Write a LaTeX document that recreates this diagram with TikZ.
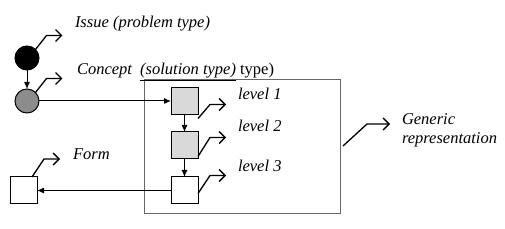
\documentclass[tikz,border=0pt]{standalone}
\usepackage{fontspec}
\setmainfont{Liberation Serif}
\usetikzlibrary{arrows.meta}
\begin{document}
\begin{tikzpicture}[x=1pt,y=-1pt,
  every node/.style={inner sep=0pt, outer sep=0pt},
  lab/.style={font=\fontsize{16.5}{19}\selectfont\itshape, anchor=west},
  hook/.style={line width=1.3pt, line join=miter, -{Straight Barb[length=6pt,width=12pt,line width=1.3pt]}},
  conn/.style={line width=1pt, -{Latex[length=7pt,width=6pt]}},
  sq/.style={draw, line width=1pt, minimum size=27pt},
  circ/.style={draw, circle, line width=1pt, minimum size=24pt}]
\useasboundingbox (0,0) rectangle (505,229);
% frame
\node[draw=black!60, line width=0.6pt, minimum width=196pt, minimum height=134pt] (frame) at (242,146) {};
% circles
\node[circ, fill=black] (issue) at (27,58) {};
\node[circ, fill=black!45] (concept) at (27,101) {};
% boxes
\node[sq, fill=black!15] (l1) at (184.5,101) {};
\node[sq, fill=black!15] (l2) at (184.5,145.5) {};
\node[sq, fill=white] (l3) at (184.5,190.5) {};
\node[sq, fill=white] (form) at (23.5,190.5) {};
% labels
\node[lab] (tissue) at (75,24) {Issue (problem type)};
\node[lab] (tconcept) at (77,72) {\textit{Concept\ \ \underline{(solution type)}}\upshape\ type)};
\node[lab] (tl1) at (238,94) {level 1};
\node[lab] (tl2) at (238,126) {level 2};
\node[lab] (tl3) at (238,166) {level 3};
\node[lab] (tform) at (73,154) {Form};
\node[lab, align=left] (tgen) at (402,130) {Generic\\representation};
% connectors
\draw[conn] (issue) -- (concept);
\draw[conn] (concept.east) -- (l1.west);
\draw[conn] (l1) -- (l2);
\draw[conn] (l2) -- (l3);
\draw[conn] (l3.west) -- (form.east);
% hooks
\draw[hook] (issue.north east) -- ++(11,-14) -- ++(16,0);
\draw[hook] (concept.north east) -- ++(11,-14) -- ++(16,0);
\draw[hook] ([yshift=-4pt]l1.south east) -- ++(12,-14) -- ++(16,0);
\draw[hook] ([yshift=-11pt]l2.east) -- ++(12,-19) -- ++(16,0);
\draw[hook] ([yshift=-3pt]l3.east) -- ++(12,-18) -- ++(16,0);
\draw[hook] (form.north east) ++(-5,0) -- ++(12,-18) -- ++(16,0);
\coordinate (gstart) at ([xshift=3pt]frame.east);
\draw[hook] (gstart) -- ++(24,-22) -- ++(23,0);
\end{tikzpicture}
\end{document}
